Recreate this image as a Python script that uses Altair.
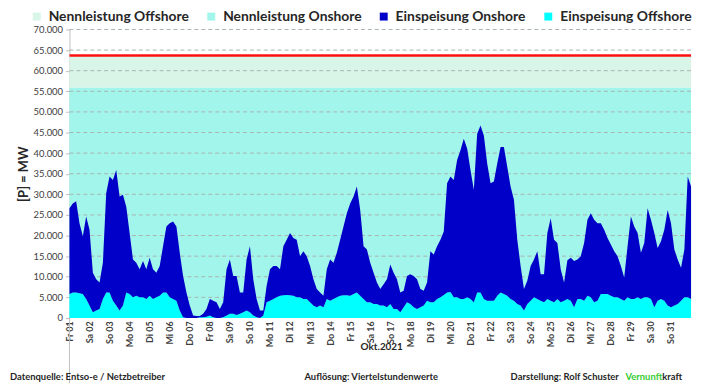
import altair as alt
import pandas as pd

# ---------------- data ----------------
DAY_LABELS = ["Fr 01", "Sa 02", "So 03", "Mo 04", "Di 05", "Mi 06", "Do 07", "Fr 08",
              "Sa 09", "So 10", "Mo 11", "Di 12", "Mi 13", "Do 14", "Fr 15", "Sa 16",
              "So 17", "Mo 18", "Di 19", "Mi 20", "Do 21", "Fr 22", "Sa 23", "So 24",
              "Mo 25", "Di 26", "Mi 27", "Do 28", "Fr 29", "Sa 30", "So 31"]

Y_TICKS = [0, 5000, 10000, 15000, 20000, 25000, 30000, 35000,
           40000, 45000, 50000, 55000, 60000, 65000, 70000]

# total feed-in (top of the dark-blue area), GW, every 4 hours
TOTAL_GW = [
    26.6, 27.8, 28.3, 23.0, 19.8, 24.6,   # 01
    21.4, 11.0, 9.4, 8.6, 13.4, 30.3,     # 02
    34.3, 33.5, 35.9, 29.5, 29.9, 27.0,   # 03
    20.6, 14.2, 13.4, 11.8, 13.8, 11.8,   # 04
    14.6, 11.8, 11.0, 12.6, 17.4, 22.2,   # 05
    23.0, 23.4, 22.2, 15.8, 10.2, 6.2,    # 06
    3.0, 0.6, 0.5, 0.5, 1.0, 2.2,         # 07
    4.6, 4.2, 3.8, 2.2, 3.8, 11.8,        # 08
    14.2, 10.2, 10.2, 6.2, 6.2, 14.2,     # 09
    17.4, 9.4, 4.6, 1.8, 1.8, 7.8,        # 10
    11.8, 12.6, 12.6, 11.8, 17.4, 19.0,   # 11
    20.6, 19.4, 19.0, 15.0, 16.2, 15.0,   # 12
    12.6, 9.4, 7.0, 6.2, 5.4, 11.8,       # 13
    14.2, 13.4, 15.8, 19.0, 22.2, 25.4,   # 14
    27.8, 29.5, 31.9, 26.2, 17.4, 16.6,   # 15
    13.4, 11.0, 8.6, 7.0, 8.2, 9.4,       # 16
    13.0, 11.0, 9.4, 6.2, 6.6, 10.2,      # 17
    10.6, 10.2, 9.4, 7.0, 6.6, 8.6,       # 18
    16.2, 15.4, 17.4, 19.0, 21.0, 32.7,   # 19
    34.3, 33.5, 38.3, 40.7, 43.5, 41.1,   # 20
    35.9, 31.1, 44.7, 46.7, 44.3, 37.5,   # 21
    32.7, 33.1, 37.5, 41.5, 41.5, 36.7,   # 22
    31.9, 28.7, 19.0, 12.6, 7.0, 9.0,     # 23
    12.6, 14.2, 16.2, 10.6, 10.6, 20.6,   # 24
    24.2, 19.0, 18.2, 11.8, 8.6, 14.0,    # 25
    14.6, 13.8, 14.2, 15.0, 18.2, 23.8,   # 26
    25.4, 23.8, 23.0, 23.0, 21.4, 19.4,   # 27
    17.8, 16.2, 15.0, 12.6, 9.8, 17.4,    # 28
    24.6, 22.2, 20.6, 15.8, 18.2, 26.6,   # 29
    23.8, 20.6, 17.0, 18.6, 21.4, 26.2,   # 30
    23.0, 16.6, 14.2, 12.2, 16.6, 34.3,   # 31
    31.9,
]

# offshore feed-in (top of the cyan area), GW, every 4 hours
OFFSHORE_GW = [
    5.8, 6.2, 6.2, 6.0, 5.8, 4.6,   # 01
    3.0, 1.4, 1.8, 2.2, 4.6, 6.2,   # 02
    6.2, 4.2, 3.0, 1.8, 3.0, 6.2,   # 03
    5.8, 5.0, 5.4, 5.0, 5.0, 4.6,   # 04
    5.4, 4.6, 5.0, 5.4, 6.2, 6.2,   # 05
    5.0, 4.6, 4.2, 1.8, 0.2, 0.0,   # 06
    0.0, 0.0, 0.0, 0.2, 0.2, 0.3,   # 07
    0.6, 0.2, 0.0, 0.0, 0.2, 0.6,   # 08
    1.0, 1.0, 0.7, 1.0, 1.4, 1.8,   # 09
    1.4, 0.6, 0.2, 0.0, 0.6, 3.8,   # 10
    4.2, 4.6, 5.0, 5.4, 5.5, 5.6,   # 11
    5.5, 5.4, 5.0, 5.0, 4.6, 4.6,   # 12
    3.8, 3.0, 2.6, 3.0, 2.6, 4.6,   # 13
    4.2, 4.6, 5.0, 5.4, 5.5, 5.5,   # 14
    5.4, 5.8, 6.2, 5.4, 4.6, 3.8,   # 15
    3.8, 3.4, 3.4, 3.0, 3.0, 2.6,   # 16
    3.4, 2.2, 2.2, 1.4, 2.6, 3.8,   # 17
    3.4, 2.6, 2.2, 2.6, 3.0, 4.2,   # 18
    3.8, 3.8, 4.6, 5.0, 5.6, 6.2,   # 19
    6.3, 5.0, 5.0, 4.6, 4.6, 5.0,   # 20
    4.6, 3.8, 6.2, 6.2, 4.6, 4.2,   # 21
    4.2, 4.2, 5.4, 6.2, 5.8, 5.4,   # 22
    4.6, 4.2, 3.4, 3.0, 1.8, 3.4,   # 23
    4.2, 5.0, 4.6, 4.2, 3.8, 4.6,   # 24
    4.2, 3.8, 4.6, 3.8, 4.2, 4.6,   # 25
    4.2, 2.6, 4.6, 4.6, 4.2, 5.4,   # 26
    5.0, 3.8, 4.2, 5.8, 5.8, 5.8,   # 27
    5.4, 5.0, 5.0, 4.6, 4.2, 5.0,   # 28
    4.6, 4.6, 5.0, 4.6, 5.0, 5.0,   # 29
    4.6, 2.6, 4.2, 4.6, 4.2, 3.0,   # 30
    2.6, 3.0, 3.4, 4.2, 5.0, 5.0,   # 31
    4.6,
]

NENN_ONSHORE = 55950   # MW installed onshore
NENN_OFFSHORE = 7750   # MW installed offshore

SERIES = ["Nennleistung Offshore", "Nennleistung Onshore",
          "Einspeisung Onshore", "Einspeisung Offshore"]
COLORS = ["#d8f5e8", "#a2f5ea", "#0000c8", "#00ffff"]

MONTH = "Okt.2021"
FOOTER_LEFT = "Datenquelle: Entso-e  / Netzbetreiber"
FOOTER_MID = "Auflösung: Viertelstundenwerte"
FOOTER_RIGHT = "Darstellung:  Rolf Schuster"
BRAND = ["Vernunft", "kraft"]

# ---------------- table ----------------
n = len(TOTAL_GW)
df = pd.DataFrame({
    "t": [i / 6 for i in range(n)],
    "gesamt": [v * 1000 for v in TOTAL_GW],
    "offshore": [v * 1000 for v in OFFSHORE_GW],
})
df["null"] = 0
df["nenn_on"] = NENN_ONSHORE
df["nenn_ges"] = NENN_ONSHORE + NENN_OFFSHORE

grid_df = pd.DataFrame({"v": Y_TICKS[1:]})

W, H = 627, 291
FONT = "Lato"

xscale = alt.Scale(domain=[0, 31], nice=False, zero=False)
yscale = alt.Scale(domain=[0, 70000], nice=False)
cscale = alt.Scale(domain=SERIES, range=COLORS)

label_js = "[" + ",".join("'%s'" % s for s in DAY_LABELS) + "][datum.value]"
x_axis = alt.Axis(values=list(range(len(DAY_LABELS))), labelExpr=label_js, labelAngle=270,
                  labelFont=FONT, labelFontSize=9, labelFontWeight="bold",
                  labelColor="#404040", ticks=False, domain=False, grid=False,
                  title=None, labelPadding=3, labelOverlap=False)
y_axis = alt.Axis(values=Y_TICKS, labelExpr="replace(format(datum.value, ',d'), ',', '.')",
                  labelFont=FONT, labelFontSize=9.5, labelColor="#404040", labelPadding=3,
                  tickSize=4, tickColor="#bfbfbf", domainColor="#bfbfbf", grid=False,
                  title="[P] = MW", titleFont=FONT, titleFontSize=13, titleFontWeight="bold",
                  titleColor="#262626", titlePadding=3)
legend = alt.Legend(orient="none", legendX=-40, legendY=-20, direction="horizontal",
                    title=None, symbolType="square", symbolSize=64, symbolStrokeWidth=0,
                    symbolOpacity=1, labelFont=FONT, labelFontSize=14, labelFontWeight="bold",
                    labelColor="#262626", columnPadding=15, labelOffset=5, labelLimit=300)

X = alt.X("t:Q", scale=xscale, axis=x_axis)
C = alt.Color("serie:N", scale=cscale, legend=legend)


def band(lo, hi, name):
    return alt.Chart(df).transform_calculate(serie="'%s'" % name).mark_area(opacity=1).encode(
        x=X,
        y=alt.Y(lo + ":Q", scale=yscale, axis=y_axis),
        y2=alt.Y2(hi + ":Q"),
        color=C,
    )


nenn_on = band("null", "nenn_on", "Nennleistung Onshore")
nenn_off = band("nenn_on", "nenn_ges", "Nennleistung Offshore")

grid = alt.Chart(grid_df).mark_rule(color="#a9b3b3", strokeDash=[4, 3], strokeWidth=1).encode(
    y=alt.Y("v:Q", scale=yscale, axis=y_axis)
)

red = alt.Chart(df).mark_line(color="#ff1010", strokeWidth=2.5).encode(
    x=X, y=alt.Y("nenn_ges:Q", scale=yscale, axis=y_axis)
)

ein_off = band("null", "offshore", "Einspeisung Offshore")
ein_on = band("offshore", "gesamt", "Einspeisung Onshore")

axis_ext = alt.Chart(pd.DataFrame({"a": [0]})).mark_rule(color="#bfbfbf", strokeWidth=1).encode(
    x=alt.value(0), y=alt.value(H), y2=alt.value(H + 66)
)


def txt(s, x, y, align="left", color="#262626", size=9.5):
    return alt.Chart(pd.DataFrame({"s": [s]})).mark_text(
        align=align, baseline="middle", font=FONT, fontSize=size, fontWeight="bold", color=color
    ).encode(text="s:N", x=alt.value(x), y=alt.value(y))


texts = [
    txt(MONTH, 315, 320, align="center", size=10),
    txt(FOOTER_LEFT, -60, 351),
    txt(FOOTER_MID, 237, 351),
    txt(FOOTER_RIGHT, 445, 351),
    txt(BRAND[0], 598, 351, align="right", color="#33cc33"),
    txt(BRAND[1], 598, 351),
]

chart = alt.layer(nenn_on, nenn_off, grid, red, ein_off, ein_on, axis_ext, *texts).properties(
    width=W, height=H,
    autosize=alt.AutoSizeParams(type="none"),
    padding={"left": 62, "top": 20, "right": 6, "bottom": 70},
    background="white",
).configure_view(stroke=None)

chart.save("out.html", embed_options={"renderer": "svg", "actions": False})
